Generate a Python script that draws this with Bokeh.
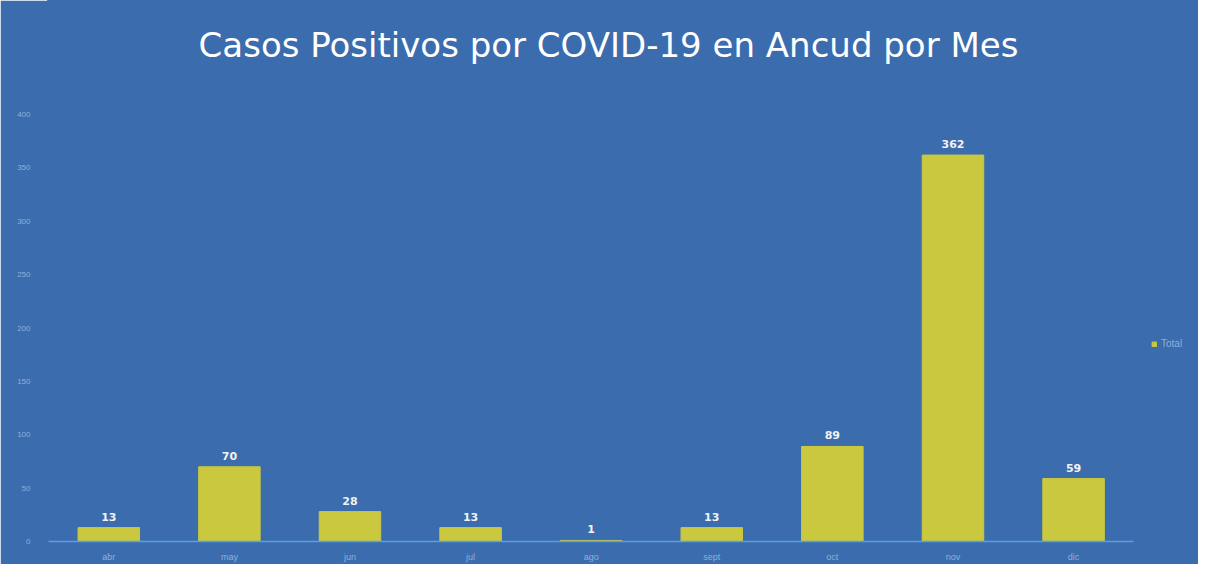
from bokeh.plotting import figure
from bokeh.models import (ColumnDataSource, Range1d, Legend, LegendItem, LabelSet, Label,
                          FixedTicker)
from bokeh.core.properties import value
from bokeh.embed import file_html
from bokeh.resources import INLINE

title = "Casos Positivos por COVID-19 en Ancud por Mes"
months = ["abr", "may", "jun", "jul", "ago", "sept", "oct", "nov", "dic"]
total = [13, 70, 28, 13, 1, 13, 89, 362, 59]
y_ticks = [0, 50, 100, 150, 200, 250, 300, 350, 400]

BG = "#3b6cae"
BAR = "#c9c83e"

idx = list(range(len(months)))
src = ColumnDataSource(dict(x=idx, m=months, v=total, lab=[str(t) for t in total]))

# frame covers the whole upper area; 400 sits ~114px from the top
p = figure(x_range=Range1d(-0.5, 9.036), y_range=Range1d(0, 506.8),
           frame_width=1150, frame_height=541,
           output_backend="svg", toolbar_location=None,
           background_fill_color=BG, border_fill_color=BG,
           min_border_left=48, min_border_right=0, min_border_bottom=20, min_border_top=0)
p.outline_line_color = BG
p.outline_line_width = 3

r = p.vbar(x="x", top="v", width=0.51, color=BAR, source=src)

labels = LabelSet(x="x", y="v", text="lab", source=src, text_align="center",
                  text_baseline="bottom", y_offset=7, text_color="#f2f2f2",
                  text_font_size="11px", text_font_style="bold", text_font=value("DejaVu Sans"))
p.add_layout(labels)

p.add_layout(Label(x=560, y=497, x_units="screen", y_units="screen", text=title,
                   text_align="center", text_baseline="alphabetic",
                   text_font_size="34px", text_color="white", text_font="DejaVu Sans"))

p.xgrid.grid_line_color = None
p.ygrid.grid_line_color = None

p.yaxis.ticker = FixedTicker(ticks=y_ticks)
p.yaxis.axis_line_color = None
p.yaxis.major_tick_line_color = None
p.yaxis.minor_tick_line_color = None
p.yaxis.major_label_text_color = "#8fb0d8"
p.yaxis.major_label_text_font_size = "8px"
p.yaxis.major_label_standoff = 12

p.xaxis.ticker = FixedTicker(ticks=idx)
p.xaxis.major_label_overrides = {i: m for i, m in zip(idx, months)}
p.xaxis.bounds = (-0.5, len(months) - 0.5)
p.xaxis.axis_line_color = "#5d9ee0"
p.xaxis.axis_line_width = 1.5
p.xaxis.major_tick_line_color = None
p.xaxis.minor_tick_line_color = None
p.xaxis.major_label_text_color = "#8fb0d8"
p.xaxis.major_label_text_font_size = "9px"
p.xaxis.major_label_standoff = 4

legend = Legend(items=[LegendItem(label="Total", renderers=[r])],
                location=(1103, 192), background_fill_alpha=0, border_line_color=None,
                label_text_color="#8fb0d8", label_text_font_size="10px",
                glyph_width=6, glyph_height=6, padding=0, margin=0, label_standoff=4)
p.add_layout(legend)

open("out.html", "w").write(file_html(p, INLINE))
